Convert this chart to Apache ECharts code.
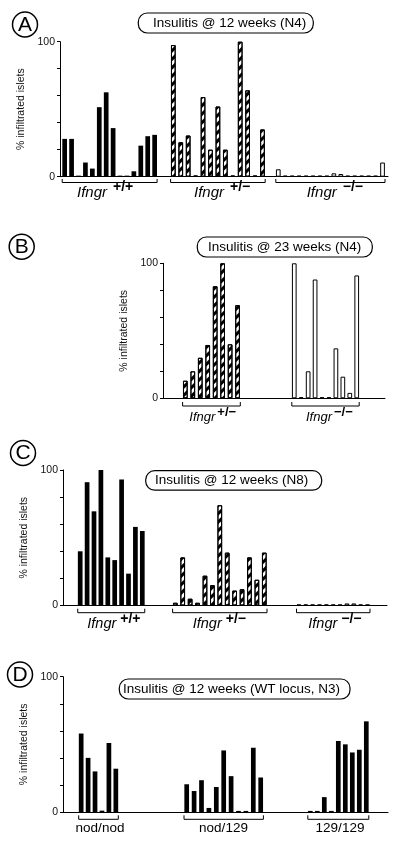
<!DOCTYPE html>
<html><head><meta charset="utf-8">
<script src="https://cdn.jsdelivr.net/npm/echarts@6/dist/echarts.min.js"></script>
<style>html,body{margin:0;padding:0;background:#fff}#c{width:408px;height:852px}</style>
</head><body><div id="c"></div>
<script>
// ---------- DATA (% infiltrated islets, one value per mouse) ----------
const yTickLabels = [0, 100];
const yAxisTitle = '% infiltrated islets';

const titleA = 'Insulitis @ 12 weeks (N4)';
const titleB = 'Insulitis @ 23 weeks (N4)';
const titleC = 'Insulitis @ 12 weeks (N8)';
const titleD = 'Insulitis @ 12 weeks (WT locus, N3)';

const genoWT = '+/+';
const genoHet = '+/\u2212';
const genoKO = '\u2212/\u2212';
const geneName = 'Ifngr';
const locusLabels = ['nod/nod', 'nod/129', '129/129'];

const aWT  = [28, 28, 0.8, 10.5, 6, 51.5, 62.5, 36, 0.8, 0.8, 4, 23, 30, 31];
const aHet = [97.5, 25.5, 30.5, 0.8, 59, 20, 52, 20, 0.8, 100, 64, 0.8, 35];
const aKO  = [5.5, 0.8, 0.8, 0.8, 0.8, 0.8, 0.8, 0.8, 2.5, 2, 0.8, 0.8, 0.8, 0.8, 0.8, 10.5];

const bHet = [13, 20, 30, 39.5, 83, 100, 40, 69];
const bKO  = [100, 0.8, 20, 88, 0.8, 0.8, 37, 16, 4, 91];

const cWT  = [40, 91, 69.5, 100, 35.5, 33.5, 93, 23.5, 58, 55];
const cHet = [2, 35.5, 5, 2, 22, 15, 74, 39, 11, 12, 35.5, 19, 39];
const cKO  = [0.8, 0.8, 0.8, 0.8, 0.8, 0.8, 0.8, 1.5, 1.5, 0.8, 0.8];

const dNodNod = [58, 40, 30, 1, 51, 32];
const dNod129 = [20.5, 15.5, 23.5, 3, 18.5, 45.5, 26.5, 0.8, 0.8, 47.5, 25.5];
const d129129 = [0.8, 0.8, 11, 0.8, 52.5, 50, 44, 46, 67];

// ---------- RENDERING ----------
const FONT = '"Liberation Sans", Arial, Helvetica, sans-serif';
const chart = echarts.init(document.getElementById('c'), null, { renderer: 'canvas' });

const STYLES = {
  solid: { color: '#000' },
  hatch: {
    color: '#fff', borderColor: '#000', borderWidth: 1,
    decal: { symbol: 'rect', symbolSize: 1, dashArrayX: [1, 0], dashArrayY: [2.5, 2.5], rotation: -Math.PI / 4, color: '#000' }
  },
  hollow: { color: '#fff', borderColor: '#000', borderWidth: 1 }
};

const grids = [], xAxes = [], yAxes = [], series = [], graphics = [];

function addPanel(p) {
  const gi = grids.length;
  grids.push({ left: p.axisLeft, top: p.top, width: p.axisWidth, height: p.height });
  xAxes.push({ gridIndex: gi, type: 'category', data: [''], axisLine: { lineStyle: { color: '#000', width: 1 } }, axisTick: { show: false }, axisLabel: { show: false } });
  yAxes.push({
    gridIndex: gi, type: 'value', min: 0, max: 100, interval: 20,
    name: yAxisTitle, nameLocation: 'middle', nameGap: p.nameGap,
    nameTextStyle: { fontFamily: FONT, fontSize: 10.5, color: '#111' },
    axisLine: { show: true, lineStyle: { color: '#000', width: 1 } },
    axisTick: { show: true, length: 3, lineStyle: { color: '#000' } },
    axisLabel: { margin: 5, fontFamily: FONT, fontSize: 10.5, color: '#111', formatter: v => yTickLabels.includes(v) ? String(v) : '' },
    splitLine: { show: false }
  });
  p.groups.forEach(g => {
    const k = grids.length;
    grids.push({ left: g.left, top: p.top, width: g.width, height: p.height });
    xAxes.push({ gridIndex: k, type: 'category', data: g.data.map((_, i) => i + 1), show: false });
    yAxes.push({ gridIndex: k, type: 'value', min: 0, max: 100, show: false });
    series.push({ type: 'bar', xAxisIndex: k, yAxisIndex: k, data: g.data, barWidth: 4.7, itemStyle: STYLES[g.kind], silent: true });
    // bracket under group
    const x1 = g.left + 1, x2 = g.left + g.width - 1, by = p.bracketY;
    graphics.push({ type: 'polyline', silent: true, shape: { points: [[x1, by - p.tick], [x1, by], [x2, by], [x2, by - p.tick]] }, style: { stroke: '#000', lineWidth: 1, fill: null } });
    // group label
    if (g.sup) {
      graphics.push({ type: 'text', x: g.lx, y: p.labelY, silent: true, style: { text: geneName, fontFamily: FONT, fontStyle: 'italic', fontSize: p.lfs, fill: '#000', textAlign: 'left', textVerticalAlign: 'middle' } });
      graphics.push({ type: 'text', x: g.lx + p.supDx, y: p.labelY - 5, silent: true, style: { text: g.sup, fontFamily: FONT, fontWeight: 'bold', fontSize: p.sfs, fill: '#000', textAlign: 'left', textVerticalAlign: 'middle' } });
    } else {
      graphics.push({ type: 'text', x: g.lx, y: p.labelY, silent: true, style: { text: g.label, fontFamily: FONT, fontSize: 13.5, fill: '#000', textAlign: 'center', textVerticalAlign: 'middle' } });
    }
  });
  // circled panel letter
  graphics.push({ type: 'circle', silent: true, shape: { cx: p.circle[0], cy: p.circle[1], r: 12.5 }, style: { fill: '#fff', stroke: '#000', lineWidth: 1.5 } });
  graphics.push({ type: 'text', silent: true, x: p.circle[0], y: p.circle[1] + 0.5, style: { text: p.letter, fontFamily: FONT, fontSize: 21, fill: '#000', textAlign: 'center', textVerticalAlign: 'middle' } });
  // title box
  const t = p.titleBox;
  graphics.push({ type: 'rect', silent: true, z: 10, shape: { x: t[0], y: t[1], width: t[2], height: t[3], r: 9 }, style: { fill: '#fff', stroke: '#000', lineWidth: 1.2 } });
  graphics.push({ type: 'text', silent: true, z: 11, x: t[4], y: t[1] + t[3] / 2, style: { text: p.title, fontFamily: FONT, fontSize: 13.5, fill: '#000', textAlign: 'left', textVerticalAlign: 'middle' } });
}

addPanel({
  letter: 'A', circle: [25, 24.5], title: titleA, titleBox: [138.3, 13, 175, 20, 153],
  top: 41.7, height: 135, axisLeft: 60, axisWidth: 328, nameGap: 13,
  bracketY: 182.5, tick: 3.5, labelY: 192.5, lfs: 15, sfs: 14, supDx: 36,
  groups: [
    { left: 61.2, width: 96.9, data: aWT, kind: 'solid', sup: genoWT, lx: 77 },
    { left: 169.6, width: 96.6, data: aHet, kind: 'hatch', sup: genoHet, lx: 194 },
    { left: 274.8, width: 111.2, data: aKO, kind: 'hollow', sup: genoKO, lx: 306.7 }
  ]
});
addPanel({
  letter: 'B', circle: [21.7, 246.7], title: titleB, titleBox: [197.3, 237, 175, 20, 208],
  top: 263.3, height: 135, axisLeft: 163, axisWidth: 222, nameGap: 13,
  bracketY: 406, tick: 4, labelY: 417, lfs: 13, sfs: 13, supDx: 28,
  groups: [
    { left: 181.6, width: 59.7, data: bHet, kind: 'hatch', sup: genoHet, lx: 189.3 },
    { left: 290.8, width: 69.4, data: bKO, kind: 'hollow', sup: genoKO, lx: 306 }
  ]
});
addPanel({
  letter: 'C', circle: [23, 453], title: titleC, titleBox: [145.7, 470.7, 176, 19.5, 155],
  top: 470, height: 135.5, axisLeft: 63, axisWidth: 324, nameGap: 14,
  bracketY: 612.7, tick: 4, labelY: 624, lfs: 14.5, sfs: 14, supDx: 33,
  groups: [
    { left: 76.75, width: 69, data: cWT, kind: 'solid', sup: genoWT, lx: 87.3 },
    { left: 171.6, width: 96.4, data: cHet, kind: 'hatch', sup: genoHet, lx: 192.7 },
    { left: 295.5, width: 75.5, data: cKO, kind: 'hollow', sup: genoKO, lx: 308.3 }
  ]
});
addPanel({
  letter: 'D', circle: [20, 674.5], title: titleD, titleBox: [119.3, 679, 230.7, 20, 123],
  top: 676.7, height: 135.3, axisLeft: 63, axisWidth: 325, nameGap: 15,
  bracketY: 819.3, tick: 4, labelY: 828,
  groups: [
    { left: 77.7, width: 41.6, data: dNodNod, kind: 'solid', label: locusLabels[0], lx: 100 },
    { left: 183, width: 81.4, data: dNod129, kind: 'solid', label: locusLabels[1], lx: 223.5 },
    { left: 306.8, width: 63, data: d129129, kind: 'solid', label: locusLabels[2], lx: 340 }
  ]
});

chart.setOption({
  backgroundColor: '#fff',
  animation: false,
  grid: grids, xAxis: xAxes, yAxis: yAxes, series: series,
  graphic: { elements: graphics }
});
</script>
</body></html>
